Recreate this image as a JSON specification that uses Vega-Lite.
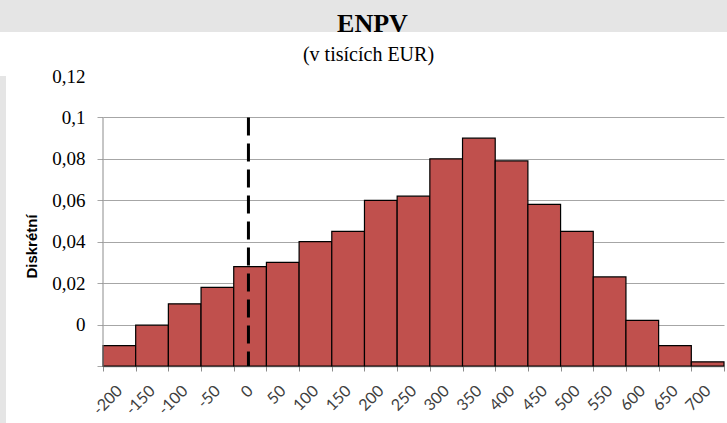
{
  "$schema": "https://vega.github.io/schema/vega-lite/v6.json",
  "background": "#ffffff",
  "padding": 0,
  "spacing": 8,
  "config": {"view": {"stroke": null}},
  "vconcat": [
    {
      "width": 727,
      "height": 32,
      "view": {"fill": "#e5e5e5", "stroke": null},
      "data": {"values": [{"t": "ENPV"}]},
      "mark": {"type": "text", "font": "Liberation Serif", "fontSize": 26, "fontWeight": "bold", "color": "#000000", "baseline": "alphabetic", "dy": 16, "dx": 9},
      "encoding": {"text": {"field": "t", "type": "nominal"}}
    },
    {
      "spacing": 18,
      "hconcat": [
        {
          "width": 6,
          "height": 380,
          "view": {"fill": "#e5e5e5", "stroke": null},
          "data": {"values": [{"t": ""}]},
          "mark": {"type": "text"},
          "encoding": {"text": {"field": "t", "type": "nominal"}}
        },
        {
          "width": 621,
          "height": 290,
          "title": {"text": "(v tisících EUR)", "font": "Liberation Serif", "fontSize": 20, "fontWeight": "normal", "color": "#000000", "dx": -45, "offset": 2},
          "view": {"stroke": null},
          "layer": [
            {
              "data": {"values": [
                {"enpv": -200, "p": 0.0098},
                {"enpv": -150, "p": 0.0197},
                {"enpv": -100, "p": 0.030},
                {"enpv": -50, "p": 0.038},
                {"enpv": 0, "p": 0.048},
                {"enpv": 50, "p": 0.050},
                {"enpv": 100, "p": 0.060},
                {"enpv": 150, "p": 0.065},
                {"enpv": 200, "p": 0.080},
                {"enpv": 250, "p": 0.082},
                {"enpv": 300, "p": 0.100},
                {"enpv": 350, "p": 0.110},
                {"enpv": 400, "p": 0.099},
                {"enpv": 450, "p": 0.078},
                {"enpv": 500, "p": 0.065},
                {"enpv": 550, "p": 0.043},
                {"enpv": 600, "p": 0.022},
                {"enpv": 650, "p": 0.0098},
                {"enpv": 700, "p": 0.002}
              ]},
              "mark": {"type": "bar", "fill": "#C0504D", "stroke": "#000000", "strokeWidth": 1.2},
              "encoding": {
                "x": {
                  "field": "enpv", "type": "ordinal",
                  "scale": {"paddingInner": 0, "paddingOuter": 0},
                  "axis": {
                    "title": null,
                    "tickBand": "extent",
                    "labelAngle": -45,
                    "labelAlign": "right",
                    "labelBaseline": "middle",
                    "labelFont": "Lato",
                    "labelFontSize": 16,
                    "labelColor": "#404040",
                    "labelPadding": 17,
                    "domainColor": "#8c8c8c",
                    "domainWidth": 1.5,
                    "tickColor": "#8c8c8c",
                    "tickSize": 5,
                    "grid": false
                  }
                },
                "y": {
                  "field": "p", "type": "quantitative",
                  "scale": {"domain": [0, 0.14], "nice": false},
                  "axis": {
                    "values": [0, 0.02, 0.04, 0.06, 0.08, 0.1, 0.12, 0.14],
                    "labelExpr": "datum.value < 0.01 ? '' : replace(toString(round((datum.value - 0.02) * 100) / 100), '.', ',')",
                    "labelFont": "Liberation Serif",
                    "labelFontSize": 19,
                    "labelColor": "#000000",
                    "labelPadding": 12,
                    "domain": false,
                    "ticks": true,
                    "tickSize": 6,
                    "tickColor": {"condition": {"test": "datum.value > 0.13", "value": "#ffffff"}, "value": "#a6a6a6"},
                    "grid": true,
                    "gridColor": {"condition": {"test": "datum.value > 0.13", "value": "#ffffff"}, "value": "#a6a6a6"},
                    "gridWidth": 1,
                    "title": "Diskrétní",
                    "titleFont": "Liberation Sans",
                    "titleFontSize": 15,
                    "titleFontWeight": "bold",
                    "titleColor": "#000000",
                    "titlePadding": 12,
                    "titleY": 170
                  }
                }
              }
            },
            {
              "data": {"values": [{"enpv": -200}]},
              "mark": {"type": "rule", "color": "#8c8c8c", "strokeWidth": 1},
              "encoding": {
                "x": {"field": "enpv", "type": "ordinal", "bandPosition": 0},
                "y": {"datum": 0},
                "y2": {"datum": 0.12}
              }
            },
            {
              "data": {"values": [{"enpv": 0}]},
              "mark": {"type": "rule", "color": "#000000", "strokeWidth": 3, "strokeDash": [18, 8]},
              "encoding": {
                "x": {"field": "enpv", "type": "ordinal", "bandPosition": 0.45},
                "y": {"datum": 0.12},
                "y2": {"datum": 0}
              }
            }
          ]
        }
      ]
    }
  ]
}
